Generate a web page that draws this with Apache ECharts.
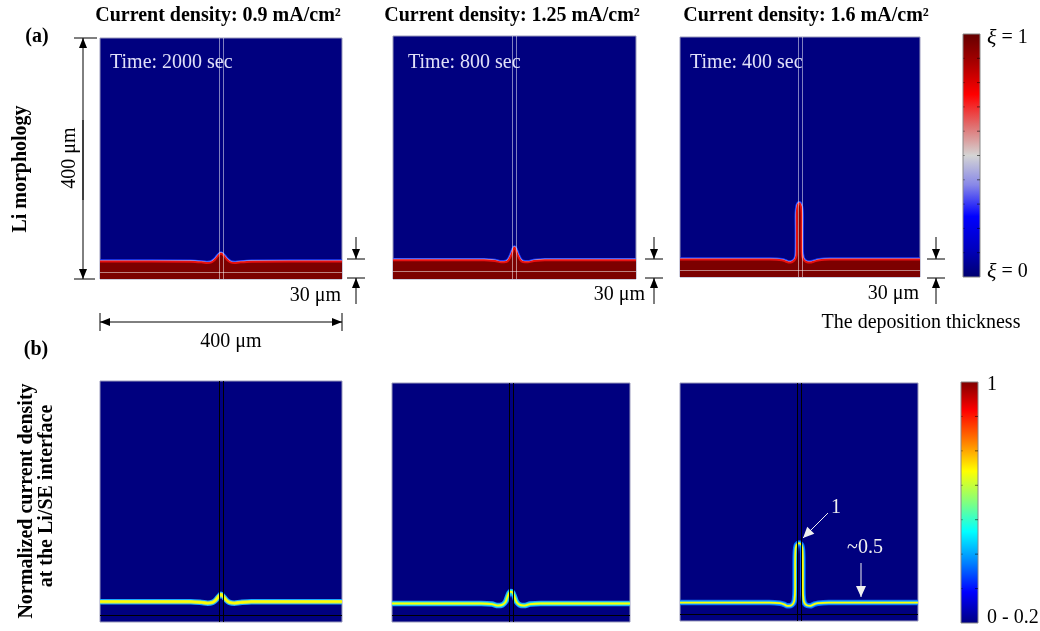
<!DOCTYPE html>
<html>
<head>
<meta charset="utf-8">
<script src="https://cdn.jsdelivr.net/npm/echarts@6/dist/echarts.min.js"></script>
<style>
  html, body { margin: 0; padding: 0; background: #fff; }
  #chart { width: 1040px; height: 631px; }
</style>
</head>
<body>
<div id="chart"></div>
<script>
// ---- data (µm) ----
// row (a): Li/SE interface height along the 400 µm cell
var liX1 = [0, 150, 170, 177, 184, 190, 195, 200, 205, 210, 216, 223, 230, 250, 400];
var liY1 = [29, 28.8, 27.5, 26.5, 27.5, 32, 38, 42.5, 38, 32, 27.5, 26.5, 27.5, 28.8, 29];
var liX2 = [0, 150, 168, 178, 186, 191, 195, 198, 200, 202, 205, 209, 214, 222, 232, 250, 400];
var liY2 = [31, 31, 29.5, 27.5, 28, 32, 40, 48, 52, 48, 40, 32, 28, 27.5, 29.5, 31, 31];
var liX3 = [0, 150, 170, 177, 182, 187, 191, 193.5, 194.6, 194.8, 194.6, 195.2, 196.5, 198.7, 200.9, 202.2, 202.8, 202.6, 202.8, 204, 206.5, 210.5, 217, 223, 232, 250, 400];
var liY3 = [29, 29, 28, 25.5, 24, 25, 28, 33, 42, 75, 100, 113, 120, 123, 120, 113, 100, 75, 42, 33, 28, 25, 24, 25.5, 28, 29, 29];

// row (b): position of the current density band
var cdX1 = [0, 150, 168, 178, 186, 191, 195, 200, 205, 209, 214, 222, 232, 250, 400];
var cdY1 = [33.7, 33.7, 32.5, 31.3, 32.5, 36, 41, 46, 41, 36, 32.5, 31.3, 32.5, 33.7, 33.7];
var cdX2 = [0, 150, 168, 178, 186, 191, 194, 197, 200, 203, 206, 209, 214, 222, 232, 250, 400];
var cdY2 = [31, 31, 30, 27.5, 29, 34, 42, 49, 51, 49, 42, 34, 29, 27.5, 30, 31, 31];
var cdX3 = [0, 150, 168, 175, 180, 186, 190, 192.5, 193.5, 193.5, 194, 195.5, 198, 200, 202, 204.5, 206, 206.5, 206.5, 207.5, 210, 214, 219, 225, 232, 250, 400];
var cdY3 = [31, 31, 30, 28, 25.5, 26, 29, 36, 55, 95, 118, 127, 130, 131, 130, 127, 118, 95, 55, 36, 29, 26, 25.5, 28, 30, 31, 31];

// mesh guide lines
var meshX = [197, 203];
var meshY = [12];

var currents = ['0.9', '1.25', '1.6'];
var times = ['Time: 2000 sec', 'Time: 800 sec', 'Time: 400 sec'];

var SERIF = '"Liberation Serif", "Times New Roman", serif';
var NAVY = '#00007f';

var boxes = [
  { left: 100, top: 38, width: 242, height: 241 },
  { left: 393, top: 36, width: 243, height: 243 },
  { left: 680, top: 37, width: 240, height: 240 },
  { left: 100, top: 381, width: 242, height: 241 },
  { left: 392, top: 383, width: 238, height: 239 },
  { left: 680, top: 383, width: 238, height: 238 }
];

function pairs(xs, ys) {
  return xs.map(function (x, i) { return [x, ys[i]]; });
}

var grid = [], xAxis = [], yAxis = [], series = [], visualMap = [];
boxes.forEach(function (b, i) {
  grid.push({
    left: b.left, top: b.top, width: b.width, height: b.height,
    show: true, backgroundColor: NAVY, borderColor: '#9a9abc', borderWidth: 1
  });
  xAxis.push({ type: 'value', gridIndex: i, min: 0, max: 400, show: false });
  yAxis.push({ type: 'value', gridIndex: i, min: 0, max: 400, show: false });
});

function meshLines(color) {
  var d = meshX.map(function (v) { return { xAxis: v }; })
    .concat(meshY.map(function (v) { return { yAxis: v }; }));
  return {
    silent: true, symbol: ['none', 'none'], animation: false,
    label: { show: false },
    lineStyle: { color: color, width: 1, type: 'solid' },
    data: d
  };
}

function line(i, data, color, width, z) {
  return {
    type: 'line', xAxisIndex: i, yAxisIndex: i, data: data,
    symbol: 'none', smooth: 0.3, silent: true, z: z,
    lineStyle: { color: color, width: width, cap: 'butt', join: 'round' }
  };
}

// row (a): Li layer
var liData = [pairs(liX1, liY1), pairs(liX2, liY2), pairs(liX3, liY3)];
liData.forEach(function (d, i) {
  series.push(line(i, d, '#2040ff', 4.5, 2));
  series.push(line(i, d, '#c0c6ff', 2.6, 3));
  var s = line(i, d, '#e81010', 2, 4);
  s.areaStyle = { color: '#7c0000', opacity: 1 };
  s.markLine = meshLines('rgba(255,255,255,0.5)');
  series.push(s);
});

// row (b): current density band, jet coloured by height
var cdData = [pairs(cdX1, cdY1), pairs(cdX2, cdY2), pairs(cdX3, cdY3)];
var outer = ['#1ca8ff', '#1c9cff', '#0a6cff'];
var mid = ['#d8f040', '#30f0d0', '#20b8ff'];
var ranges = [[31, 46], [28, 51], [25, 131]];
var cores = [
  ['#ff9000', '#ff7800', '#ff5000', '#ff2000', '#c00000'],
  ['#d8ff30', '#ffe000', '#ffa000', '#ff4000', '#c00000'],
  ['#40e8ff', '#50ffd0', '#b0ff50', '#ffd000', '#d00000']
];
cdData.forEach(function (d, k) {
  var i = k + 3;
  series.push(line(i, d, outer[k], 5.5, 2));
  series.push(line(i, d, mid[k], 3.4, 3));
  var s = line(i, d, '#ffff00', 1.8, 4);
  s.markLine = meshLines('#000');
  series.push(s);
  visualMap.push({
    type: 'continuous', show: false, seriesIndex: series.length - 1, dimension: 1,
    min: ranges[k][0], max: ranges[k][1], inRange: { color: cores[k] }
  });
});

// ---- graphic helpers ----
function txt(x, y, s, size, o) {
  o = o || {};
  return {
    type: 'text', x: x, y: y, rotation: o.rot || 0, silent: true, z: 100,
    style: {
      text: s, fill: o.color || '#000',
      font: (o.bold ? 'bold ' : '') + size + 'px ' + SERIF,
      align: o.align || 'center', verticalAlign: 'middle',
      textAlign: o.align || 'center', textVerticalAlign: 'middle',
      rich: o.rich
    }
  };
}
function seg(x1, y1, x2, y2, color, w) {
  return {
    type: 'line', silent: true, z: 100,
    shape: { x1: x1, y1: y1, x2: x2, y2: y2 },
    style: { stroke: color || '#000', lineWidth: w || 1 }
  };
}
function head(x1, y1, x2, y2, color, len, half) {
  len = len || 10; half = half || 4;
  var dx = x2 - x1, dy = y2 - y1, l = Math.sqrt(dx * dx + dy * dy);
  var ux = dx / l, uy = dy / l;
  var bx = x2 - ux * len, by = y2 - uy * len;
  return {
    type: 'polygon', silent: true, z: 100,
    shape: { points: [[x2, y2], [bx - uy * half, by + ux * half], [bx + uy * half, by - ux * half]] },
    style: { fill: color || '#000' }
  };
}
function arrow(x1, y1, x2, y2, color, len, half) {
  return [seg(x1, y1, x2, y2, color, 1), head(x1, y1, x2, y2, color, len, half)];
}

var g = [];
// titles and row labels
[218, 512, 806].forEach(function (cx, k) {
  g.push(txt(cx, 16, 'Current density: ' + currents[k] + ' mA/cm²', 20, { bold: true }));
});
g.push(txt(37, 37, '(a)', 20, { bold: true }));
g.push(txt(36, 350, '(b)', 20, { bold: true }));
g.push(txt(21, 169, 'Li morphology', 20, { bold: true, rot: Math.PI / 2 }));
g.push(txt(27, 501, 'Normalized current density', 20, { bold: true, rot: Math.PI / 2 }));
g.push(txt(47, 496, 'at the Li/SE interface', 20, { bold: true, rot: Math.PI / 2 }));

// time stamps
[110, 408, 690].forEach(function (x, k) {
  g.push(txt(x, 63, times[k], 20, { align: 'left', color: '#e0e0f8' }));
});

// 400 µm dimensions
g = g.concat(arrow(83, 200, 83, 38), arrow(83, 120, 83, 279));
g.push(seg(74, 38, 97, 38), seg(74, 279, 95, 279));
g.push(txt(70, 158, '400 μm', 20, { rot: Math.PI / 2 }));
g = g.concat(arrow(220, 322, 100, 322), arrow(220, 322, 342, 322));
g.push(seg(100, 313, 100, 331), seg(342, 313, 342, 331));
g.push(txt(231, 342, '400 μm', 20));

// 30 µm deposition thickness markers
[[356, 341, 296], [654, 645, 295], [936, 919, 294]].forEach(function (m) {
  var X = m[0];
  g.push(seg(X - 9, 259, X + 9, 259), seg(X - 9, 278, X + 9, 278));
  g = g.concat(arrow(X, 237, X, 259, '#000', 10, 4), arrow(X, 304, X, 278, '#000', 10, 4));
  g.push(txt(m[1], m[2], '30 μm', 20, { align: 'right' }));
});
g.push(txt(921, 323, 'The deposition thickness', 20));

// colour bars
function colorbar(x, y, w, h, stops, nTicks) {
  var els = [{
    type: 'rect', silent: true, z: 90,
    shape: { x: x, y: y, width: w, height: h },
    style: {
      fill: new echarts.graphic.LinearGradient(0, 0, 0, 1, stops.map(function (s) {
        return { offset: s[0], color: s[1] };
      })),
      stroke: '#888', lineWidth: 1
    }
  }];
  for (var t = 1; t < nTicks; t++) {
    var ty = y + h * t / nTicks;
    els.push(seg(x + w - 3, ty, x + w, ty, 'rgba(0,0,0,0.55)', 1));
    els.push(seg(x, ty, x + 2, ty, 'rgba(0,0,0,0.3)', 1));
  }
  return els;
}
g = g.concat(colorbar(963, 34, 17, 243, [
  [0, '#640000'], [0.12, '#a80000'], [0.25, '#ff0000'], [0.38, '#e07070'],
  [0.5, '#d4d4d4'], [0.62, '#8888e8'], [0.75, '#0000ff'], [0.88, '#0000c0'], [1, '#00006e']
], 10));
g = g.concat(colorbar(961, 382, 17, 241, [
  [0, '#7f0000'], [0.12, '#ff0000'], [0.25, '#ff8000'], [0.37, '#ffff00'],
  [0.5, '#80ff80'], [0.62, '#00ffff'], [0.75, '#0080ff'], [0.87, '#0000ff'], [1, '#000080']
], 7));
var xiRich = { i: { fontStyle: 'italic', fontSize: 22, fontFamily: SERIF } };
g.push(txt(987, 38, '{i|ξ} = 1', 20, { align: 'left', rich: xiRich }));
g.push(txt(987, 272, '{i|ξ} = 0', 20, { align: 'left', rich: xiRich }));
g.push(txt(987, 385, '1', 20, { align: 'left' }));
g.push(txt(987, 618, '0 - 0.2', 20, { align: 'left' }));

// annotations in the last panel
g = g.concat(arrow(828, 513, 803, 538, '#f0f0f0', 11, 5));
g.push(txt(836, 508, '1', 20, { color: '#f0f0f0' }));
g = g.concat(arrow(861, 563, 861, 597, '#f0f0f0', 11, 5));
g.push(txt(865, 548, '~0.5', 20, { color: '#f0f0f0' }));

var chart = echarts.init(document.getElementById('chart'), null, { renderer: 'canvas' });
chart.setOption({
  animation: false,
  backgroundColor: '#fff',
  grid: grid,
  xAxis: xAxis,
  yAxis: yAxis,
  visualMap: visualMap,
  series: series,
  graphic: { elements: g }
});
</script>
</body>
</html>
